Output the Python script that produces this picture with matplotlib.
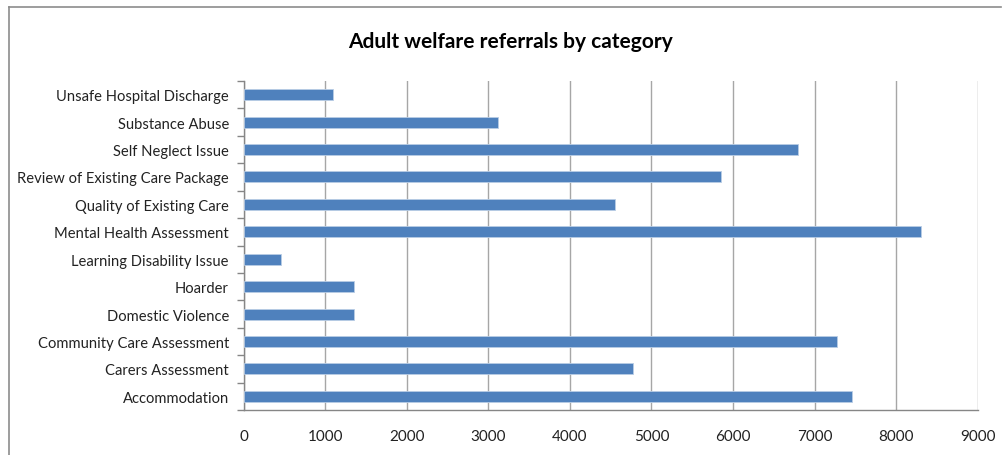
import matplotlib.pyplot as plt
from matplotlib.lines import Line2D

# data, bottom to top as drawn
categories = ['Accommodation', 'Carers Assessment', 'Community Care Assessment',
              'Domestic Violence', 'Hoarder', 'Learning Disability Issue',
              'Mental Health Assessment', 'Quality of Existing Care',
              'Review of Existing Care Package', 'Self Neglect Issue',
              'Substance Abuse', 'Unsafe Hospital Discharge']
referrals = [7460, 4775, 7280, 1360, 1350, 460, 8310, 4560, 5855, 6800, 3125, 1100]
x_ticks = [0, 1000, 2000, 3000, 4000, 5000, 6000, 7000, 8000, 9000]

plt.rcParams['font.family'] = ['Lato', 'DejaVu Sans']

fig = plt.figure(figsize=(10.05, 4.56), dpi=100)
# chart border (top and left edges are what shows)
bx, by = 8.5 / 1005, 1 - 8 / 456
fig.lines.append(Line2D([bx, 1001 / 1005], [by, by], transform=fig.transFigure,
                        color='#8c8c8c', linewidth=1.2))
fig.lines.append(Line2D([bx, bx], [by, 0], transform=fig.transFigure,
                        color='#8c8c8c', linewidth=1.2))

ax = fig.add_axes([243.5 / 1005, 1 - 411 / 456, (977.7 - 243.5) / 1005, (411 - 82) / 456])
pos = list(range(len(categories)))
ax.barh(pos, referrals, height=0.4, color='#4f81bd', edgecolor='#b9cde5',
        linewidth=0.6, zorder=3)

ax.set_xlim(0, 9000)
ax.set_ylim(-0.5, len(categories) - 0.5)
ax.set_xticks(x_ticks)
ax.set_xticklabels([str(t) for t in x_ticks], fontsize=11, color='#222222')
ax.set_yticks(pos)
ax.set_yticklabels(categories, fontsize=10.6, color='#222222')
ax.tick_params(axis='y', length=0, pad=10.5)
ax.tick_params(axis='x', length=0, pad=14)
# category boundary ticks
ax.set_yticks([p - 0.5 for p in pos] + [len(categories) - 0.5], minor=True)
ax.tick_params(axis='y', which='minor', length=5, color='#868686', width=1)
ax.set_xticks([t for t in x_ticks], minor=True)
ax.tick_params(axis='x', which='minor', length=5, color='#868686', width=1)

ax.grid(axis='x', color='#a6a6a6', linewidth=1, zorder=0)
for s in ['top', 'right']:
    ax.spines[s].set_visible(False)
for s in ['left', 'bottom']:
    ax.spines[s].set_color('#868686')
    ax.spines[s].set_linewidth(1)

fig.text(510 / 1005, 1 - 42 / 456, 'Adult welfare referrals by category',
         ha='center', va='center', fontsize=15, fontweight='bold', color='#000000')

fig.savefig('out.png', dpi=100)
